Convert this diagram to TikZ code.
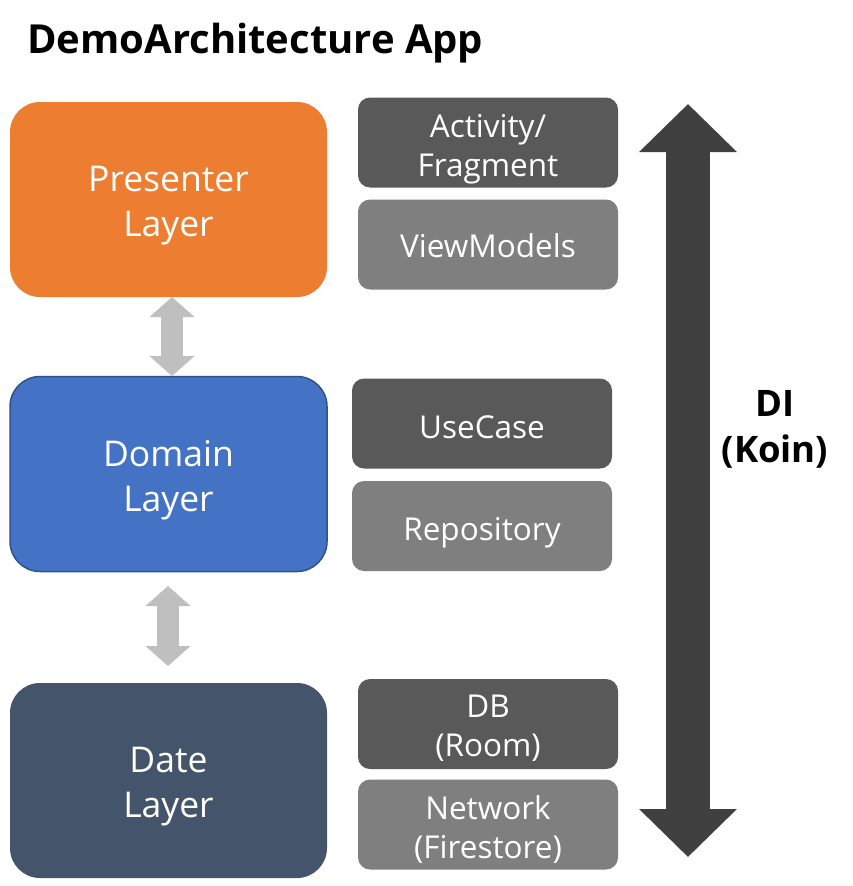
\documentclass[tikz,border=0pt]{standalone}
\usepackage{fontspec}
\setmainfont{Open Sans}
\usetikzlibrary{arrows.meta}
\definecolor{presc}{HTML}{ED7D31}
\definecolor{domc}{HTML}{4472C4}
\definecolor{domb}{HTML}{2F528F}
\definecolor{datec}{HTML}{44546A}
\definecolor{darkbox}{HTML}{595959}
\definecolor{lightbox}{HTML}{7F7F7F}
\definecolor{grayarr}{HTML}{BFBFBF}
\definecolor{diarr}{HTML}{404040}
\tikzset{
  layer/.style={rectangle, rounded corners=30pt, minimum width=317pt, minimum height=195pt, inner sep=0pt},
  layertext/.style={text=white, align=center, font=\fontsize{35.5}{45}\selectfont, inner sep=0pt},
  part/.style={rectangle, rounded corners=12pt, minimum width=260pt, minimum height=90pt, inner sep=0pt},
  parttext/.style={text=white, align=center, font=\fontsize{31.5}{39}\selectfont, inner sep=0pt},
  linkarrow/.style={draw=grayarr, line width=22pt, {Triangle[width=44pt,length=20pt]}-{Triangle[width=44pt,length=20pt]}},
  diarrow/.style={draw=diarr, line width=44pt, {Triangle[width=95pt,length=48pt]}-{Triangle[width=95pt,length=48pt]}}
}
\begin{document}
\begin{tikzpicture}[x=1pt,y=-1pt]
\useasboundingbox[fill=white] (0,0) rectangle (852,886);
\node[anchor=base west, font=\fontsize{40}{44}\selectfont\bfseries, inner sep=0pt] (title) at (27,53) {DemoArchitecture App};
\node[layer, fill=presc] (pres) at (168.5,199.5) {};
\node[layer, fill=domc, draw=domb, line width=1.5pt] (dom) at (168.5,474) {};
\node[layer, fill=datec] (date) at (168.5,780.5) {};
\node[layertext] (prest) at ([yshift=-6.5pt]pres.center) {Presenter\\Layer};
\node[layertext] (domt) at ([yshift=-6.5pt]dom.center) {Domain\\Layer};
\node[layertext] (datet) at ([yshift=-6pt]date.center) {Date\\Layer};
\node[part, fill=darkbox] (af) at (488,142.5) {};
\node[part, fill=lightbox] (vm) at (488,244.5) {};
\node[part, fill=darkbox] (uc) at (482,423.5) {};
\node[part, fill=lightbox] (repo) at (482,526) {};
\node[part, fill=darkbox] (db) at (488,724) {};
\node[part, fill=lightbox] (net) at (488,824.5) {};
\node[parttext] (aft) at ([yshift=-7pt]af.center) {Activity/\\Fragment};
\node[parttext] (vmt) at ([yshift=-1pt]vm.center) {ViewModels};
\node[parttext] (uct) at ([yshift=-3.5pt]uc.center) {UseCase};
\node[parttext] (repot) at ([yshift=-7pt]repo.center) {Repository};
\node[parttext] (dbt) at ([yshift=-4pt]db.center) {DB\\(Room)};
\node[parttext] (nett) at ([yshift=-5pt]net.center) {Network\\(Firestore)};
\coordinate (a1t) at (172,297);
\coordinate (a1b) at (172,376);
\coordinate (a2t) at (168,586);
\coordinate (a2b) at (168,666);
\coordinate (dit) at (688,104);
\coordinate (dib) at (688,857);
\draw[linkarrow] (a1t) -- (a1b);
\draw[linkarrow] (a2t) -- (a2b);
\draw[diarrow] (dit) -- (dib);
\node[align=center, font=\fontsize{36.5}{46}\selectfont\bfseries, inner sep=0pt] (di) at (775,429) {DI\\(Koin)};
\end{tikzpicture}
\end{document}
